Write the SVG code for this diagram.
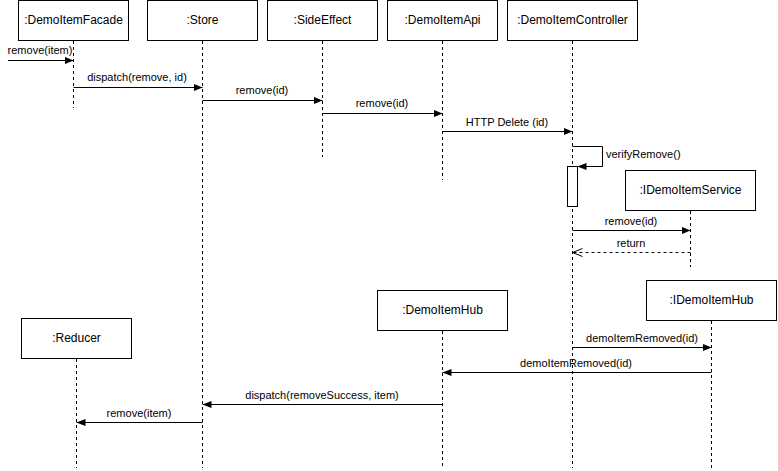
<svg xmlns="http://www.w3.org/2000/svg" width="778" height="471" viewBox="0 0 778 471">
  <style>
    .box { fill: #ffffff; stroke: #000000; stroke-width: 1; }
    .lbl { font-family: "Liberation Sans", Arial, sans-serif; font-size: 12px; fill: #000000; text-anchor: middle; }
    .msg { font-family: "Liberation Sans", Arial, sans-serif; font-size: 11px; fill: #000000; text-anchor: middle; }
    .life { stroke: #000000; stroke-width: 1; stroke-dasharray: 3 3; fill: none; }
    .call { stroke: #000000; stroke-width: 1; fill: none; marker-end: url(#block); }
    .ret { stroke: #000000; stroke-width: 1; fill: none; stroke-dasharray: 3 3; marker-end: url(#open); }
  </style>
  <defs>
    <marker id="block" viewBox="0 0 10 10" refX="10" refY="5" markerWidth="9" markerHeight="9" markerUnits="userSpaceOnUse" orient="auto">
      <path d="M0,1 L10,5 L0,9 Z" fill="#000000"/>
    </marker>
    <marker id="open" viewBox="0 0 10 10" refX="10" refY="5" markerWidth="10" markerHeight="10" markerUnits="userSpaceOnUse" orient="auto">
      <path d="M0,1 L10,5 L0,9" fill="none" stroke="#000000" stroke-width="1"/>
    </marker>
  </defs>

  <!-- participants -->
  <g id="facade">
    <rect class="box" x="18.5" y="0.5" width="110" height="40"/>
    <text class="lbl" x="73.5" y="24">:DemoItemFacade</text>
    <line class="life" x1="73.5" y1="41" x2="73.5" y2="108"/>
  </g>
  <g id="store">
    <rect class="box" x="147.5" y="0.5" width="110" height="40"/>
    <text class="lbl" x="202.5" y="24">:Store</text>
    <line class="life" x1="202.5" y1="41" x2="202.5" y2="468"/>
  </g>
  <g id="sideeffect">
    <rect class="box" x="267.5" y="0.5" width="110" height="40"/>
    <text class="lbl" x="322.5" y="24">:SideEffect</text>
    <line class="life" x1="322.5" y1="41" x2="322.5" y2="157"/>
  </g>
  <g id="api">
    <rect class="box" x="387.5" y="0.5" width="110" height="40"/>
    <text class="lbl" x="442.5" y="24">:DemoItemApi</text>
    <line class="life" x1="442.5" y1="41" x2="442.5" y2="180"/>
  </g>
  <g id="controller">
    <rect class="box" x="507.5" y="0.5" width="130" height="40"/>
    <text class="lbl" x="572.5" y="24">:DemoItemController</text>
    <line class="life" x1="572.5" y1="41" x2="572.5" y2="468"/>
    <rect class="box" x="567.5" y="166.5" width="10" height="40"/>
  </g>
  <g id="service">
    <rect class="box" x="625.5" y="170.5" width="130" height="40"/>
    <text class="lbl" x="690.5" y="194">:IDemoItemService</text>
    <line class="life" x1="690.5" y1="211" x2="690.5" y2="267"/>
  </g>
  <g id="hub">
    <rect class="box" x="377.5" y="290.5" width="130" height="40"/>
    <text class="lbl" x="442.5" y="314">:DemoItemHub</text>
    <line class="life" x1="442.5" y1="331" x2="442.5" y2="468"/>
  </g>
  <g id="ihub">
    <rect class="box" x="646.5" y="280.5" width="130" height="40"/>
    <text class="lbl" x="711.5" y="304">:IDemoItemHub</text>
    <line class="life" x1="711.5" y1="321" x2="711.5" y2="468"/>
  </g>
  <g id="reducer">
    <rect class="box" x="21.5" y="318.5" width="110" height="40"/>
    <text class="lbl" x="76.5" y="342">:Reducer</text>
    <line class="life" x1="76.5" y1="359" x2="76.5" y2="468"/>
  </g>

  <!-- messages -->
  <g id="connectors">
    <line class="call" x1="8" y1="60.5" x2="73.5" y2="60.5"/>
    <text class="msg" x="40" y="54">remove(item)</text>

    <line class="call" x1="73.5" y1="87.5" x2="202.5" y2="87.5"/>
    <text class="msg" x="137" y="81">dispatch(remove, id)</text>

    <line class="call" x1="202.5" y1="100.5" x2="322.5" y2="100.5"/>
    <text class="msg" x="262" y="94">remove(id)</text>

    <line class="call" x1="322.5" y1="113.5" x2="442.5" y2="113.5"/>
    <text class="msg" x="382" y="107">remove(id)</text>

    <line class="call" x1="442.5" y1="131.5" x2="572.5" y2="131.5"/>
    <text class="msg" x="507" y="126">HTTP Delete (id)</text>

    <path class="call" d="M572.5,146.5 H602.5 V166.5 H577.5"/>
    <text class="msg" x="606" y="158" text-anchor="start" style="text-anchor:start">verifyRemove()</text>

    <line class="call" x1="572.5" y1="230.5" x2="690.5" y2="230.5"/>
    <text class="msg" x="631" y="225">remove(id)</text>

    <line class="ret" x1="690.5" y1="252.5" x2="572.5" y2="252.5"/>
    <text class="msg" x="631" y="247">return</text>

    <line class="call" x1="572.5" y1="347.5" x2="711.5" y2="347.5"/>
    <text class="msg" x="642" y="342">demoItemRemoved(id)</text>

    <line class="call" x1="711.5" y1="372.5" x2="442.5" y2="372.5"/>
    <text class="msg" x="576" y="367">demoItemRemoved(id)</text>

    <line class="call" x1="442.5" y1="404.5" x2="202.5" y2="404.5"/>
    <text class="msg" x="322" y="399">dispatch(removeSuccess, item)</text>

    <line class="call" x1="202.5" y1="422.5" x2="76.5" y2="422.5"/>
    <text class="msg" x="139" y="417">remove(item)</text>
  </g>
</svg>
